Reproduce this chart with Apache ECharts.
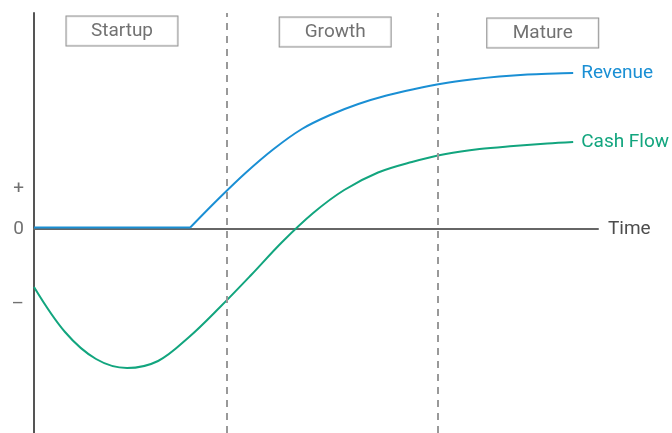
<!DOCTYPE html>
<html>
<head>
<meta charset="utf-8">
<script src="https://cdn.jsdelivr.net/npm/echarts@6/dist/echarts.min.js"></script>
<style>
  html, body { margin: 0; padding: 0; background: #fff; }
  #chart-container { width: 672px; height: 433px; }
</style>
</head>
<body>
<div id="chart-container"></div>
<script>
var dom = document.getElementById('chart-container');
var myChart = echarts.init(dom, null, { renderer: 'canvas' });

// time runs 0..100, values in arbitrary units (0 = break even)
// revenue is flat until launch, then a separate smooth rise (null breaks the line at the corner)
var revenue = [
  [0, 0.15], [27.7, 0.15], [27.7, null],
  [27.7, 0.15], [32.5, 2.9], [37.5, 5.6], [42.5, 8.0], [47.5, 10.0], [52.5, 11.4],
  [57.5, 12.5], [62.5, 13.35], [67.5, 14.0], [72.5, 14.55], [77.5, 14.95],
  [82.5, 15.25], [87.5, 15.45], [92.5, 15.55], [95.6, 15.6]
];
var cashFlow = [
  [0, -5.8], [5.5, -10.3], [11, -13.0], [16.5, -13.9], [22, -13.2], [27.5, -10.8],
  [33, -7.8], [38.5, -4.6], [44, -1.3], [49.5, 1.6], [55, 3.9], [61, 5.65],
  [67, 6.7], [73, 7.5], [79, 8.0], [85, 8.3], [91, 8.55], [95.6, 8.7]
];
var phaseBounds = [34.2, 71.6];
var phaseNames = ['Startup', 'Growth', 'Mature'];
var phaseCenters = [[15.6, 19.8], [53.4, 19.7], [90.2, 19.6]];
var yTickValues = [4.0, 0, -7.5];
var yTickLabels = ['+', '0', '–'];

var textColor = '#4d4d4d';
var font = 'Roboto';
var blue = '#1a8fd4';
var green = '#12a57e';

var option = {
  animation: false,
  grid: { left: 34, right: 74, top: 13, bottom: 0 },
  xAxis: {
    type: 'value',
    min: 0,
    max: 100,
    name: 'Time',
    nameLocation: 'end',
    nameGap: 10,
    nameTextStyle: { fontSize: 19, color: textColor, fontFamily: font },
    axisLine: { lineStyle: { color: '#666', width: 2 } },
    axisTick: { show: false },
    axisLabel: { show: false },
    splitLine: { show: false }
  },
  yAxis: {
    type: 'value',
    min: -20.4,
    max: 21.6,
    axisLine: { show: true, lineStyle: { color: '#555', width: 2 } },
    axisTick: { show: false },
    axisLabel: { show: false },
    splitLine: { show: false }
  },
  series: [
    {
      name: 'Cash Flow',
      type: 'line',
      data: cashFlow,
      smooth: 0.35,
      showSymbol: false,
      lineStyle: { color: green, width: 2 },
      endLabel: {
        show: true,
        formatter: '{a}',
        color: green,
        fontSize: 19,
        fontFamily: font,
        distance: 8
      },
      markLine: {
        silent: true,
        symbol: 'none',
        label: { show: false },
        lineStyle: { color: '#999', width: 2, type: [7, 6] },
        data: phaseBounds.map(function (v) { return { xAxis: v }; })
      },
      z: 3
    },
    {
      name: 'Revenue',
      type: 'line',
      data: revenue,
      smooth: 0.35,
      connectNulls: false,
      showSymbol: false,
      lineStyle: { color: blue, width: 2 },
      endLabel: {
        show: true,
        formatter: '{a}',
        color: blue,
        fontSize: 19,
        fontFamily: font,
        distance: 8
      },
      z: 4
    },
    {
      name: 'phases',
      type: 'scatter',
      symbolSize: 0,
      silent: true,
      clip: false,
      data: phaseCenters.map(function (c, i) { return { value: c, name: phaseNames[i] }; }),
      label: {
        show: true,
        position: 'inside',
        formatter: '{b}',
        color: textColor,
        fontSize: 19,
        fontFamily: font,
        width: 111,
        height: 29,
        lineHeight: 29,
        align: 'center',
        verticalAlign: 'middle',
        borderColor: '#777',
        borderWidth: 1,
        backgroundColor: '#fff'
      }
    },
    {
      name: 'ticks',
      type: 'scatter',
      symbolSize: 0,
      silent: true,
      clip: false,
      data: yTickValues.map(function (v, i) { return { value: [0, v], name: yTickLabels[i] }; }),
      label: {
        show: true,
        position: 'left',
        distance: 10,
        formatter: '{b}',
        color: textColor,
        fontSize: 19,
        fontFamily: font
      }
    }
  ]
};

myChart.setOption(option);
window.addEventListener('resize', myChart.resize);
</script>
</body>
</html>
